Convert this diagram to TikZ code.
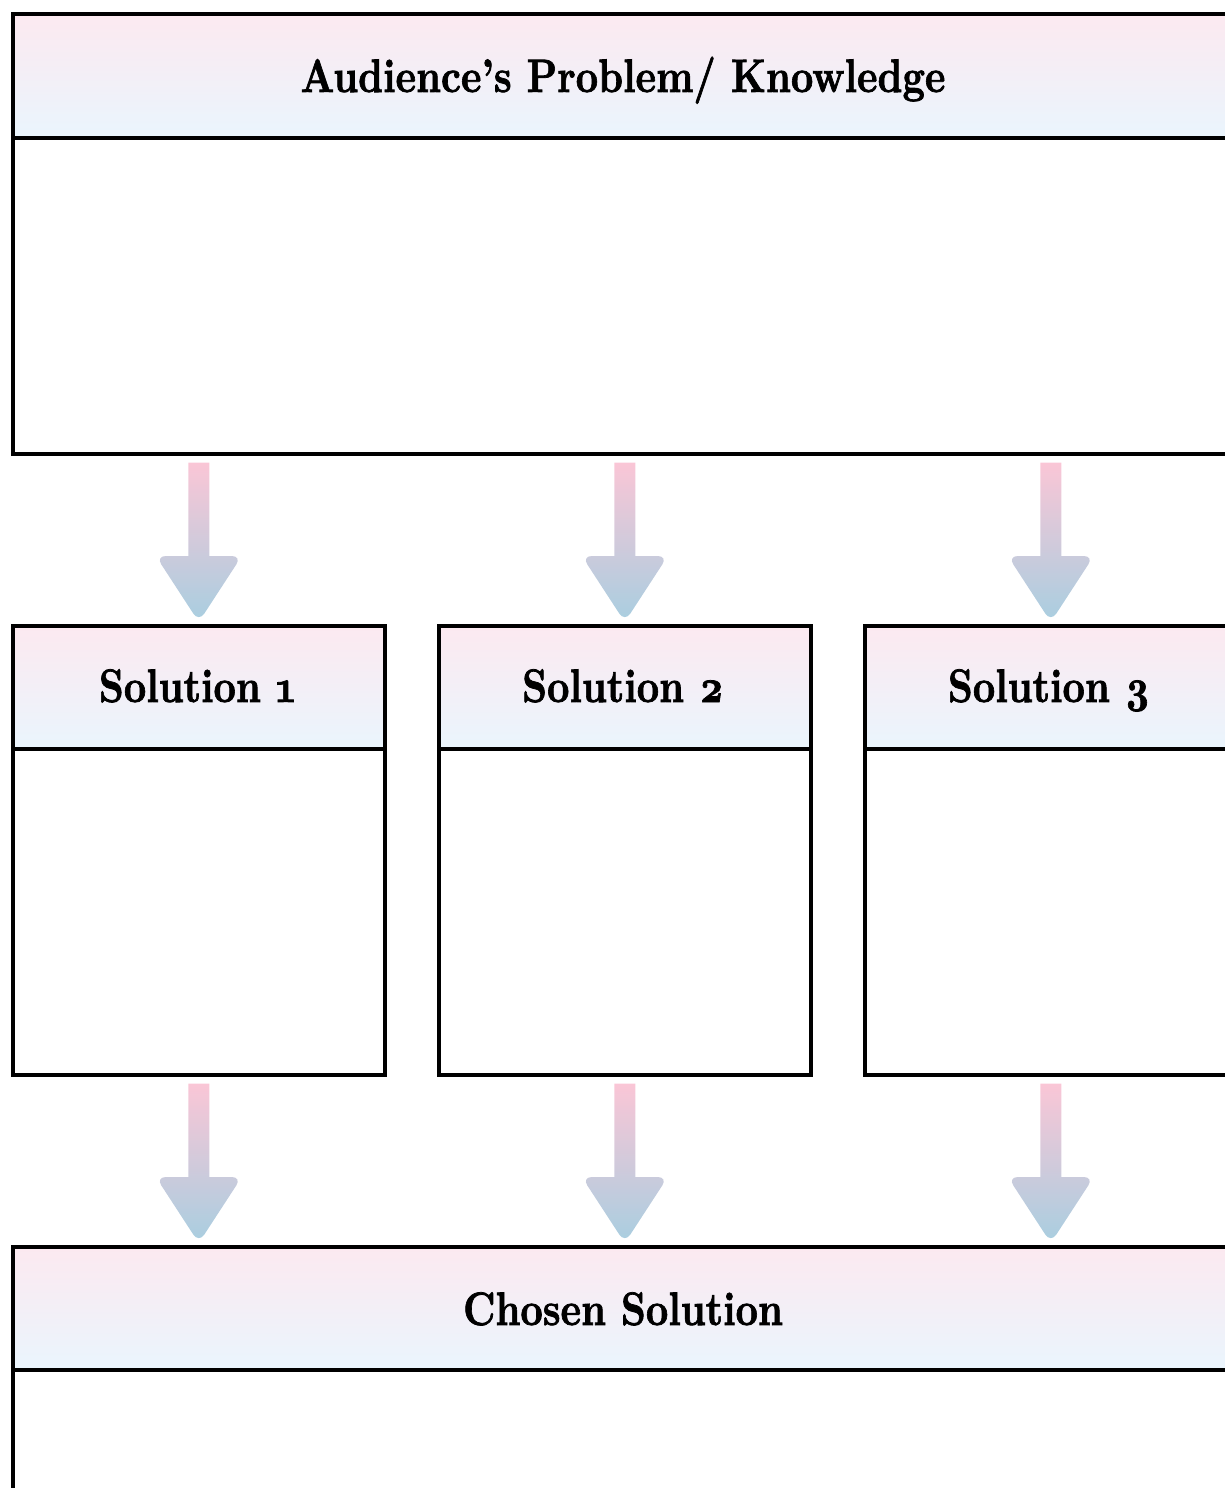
\documentclass[tikz,border=0pt]{standalone}
\usepackage{fontspec}
\setmainfont{lmroman10-regular.otf}[BoldFont=lmroman10-bold.otf, BoldFeatures={FakeBold=1.6}, Numbers=OldStyle]
\usetikzlibrary{calc}
\definecolor{hdtop}{HTML}{FCE9F0}
\definecolor{hdbot}{HTML}{EAF5FD}
\definecolor{artop}{HTML}{FAC6D6}
\definecolor{arbot}{HTML}{A8CEE0}
\newcommand{\ttltext}[1]{\scalebox{0.83}[1]{#1}}
\tikzset{
  boxline/.style={draw=black, line width=3.6pt},
  hdr/.style={boxline, top color=hdtop, bottom color=hdbot, anchor=north west, inner sep=0pt},
  body/.style={boxline, fill=white, anchor=north west, inner sep=0pt},
  ttl/.style={font=\fontsize{47}{52}\selectfont\bfseries, anchor=base, inner sep=0pt},
  grad/.style={top color=artop, bottom color=arbot},
}
\newcommand{\gradarrow}[2]{%
  \shade[grad] let \p1=(#1), \p2=(#2) in
    (\x1-10.5pt,\y1-7pt) -- (\x1-10.5pt,\y2+68pt)
    [rounded corners=10pt] -- (\x1-43pt,\y2+68pt) -- (\x1,\y2+2pt) -- (\x1+43pt,\y2+68pt)
    [sharp corners] -- (\x1+10.5pt,\y2+68pt) -- (\x1+10.5pt,\y1-7pt) -- cycle;}
\begin{document}
\begin{tikzpicture}[x=1pt,y=-1pt]
\useasboundingbox (0,0) rectangle (1225,1488);
\clip (0,0) rectangle (1225,1488);
% top box
\node[body, minimum width=1224pt, minimum height=316pt] (topbody) at (11,136) {};
\node[hdr, minimum width=1224pt, minimum height=124pt] (tophead) at (11,12) {};
\node[ttl] (toptxt) at (623,92) {\ttltext{Audience’s Problem/ Knowledge}};
% solution boxes
\foreach \i/\x in {1/11,2/437,3/863}{
  \node[body, minimum width=372pt, minimum height=326pt] (s\i body) at (\x,747) {};
  \node[hdr, minimum width=372pt, minimum height=123pt] (s\i head) at (\x,624) {};
  \node[ttl] (s\i txt) at (\x+186,702) {\ttltext{Solution \i}};
}
% chosen box
\node[body, minimum width=1224pt, minimum height=400pt] (chbody) at (11,1368) {};
\node[hdr, minimum width=1224pt, minimum height=123pt] (chhead) at (11,1245) {};
\node[ttl] (chtxt) at (623,1325) {\ttltext{Chosen Solution}};
% arrows
\foreach \i in {1,2,3}{
  \coordinate (a\i top) at (s\i head.north |- topbody.south);
  \gradarrow{a\i top}{s\i head.north}
  \coordinate (b\i top) at (s\i body.south);
  \coordinate (b\i end) at (s\i body.south |- chhead.north);
  \gradarrow{b\i top}{b\i end}
}
\end{tikzpicture}
\end{document}
